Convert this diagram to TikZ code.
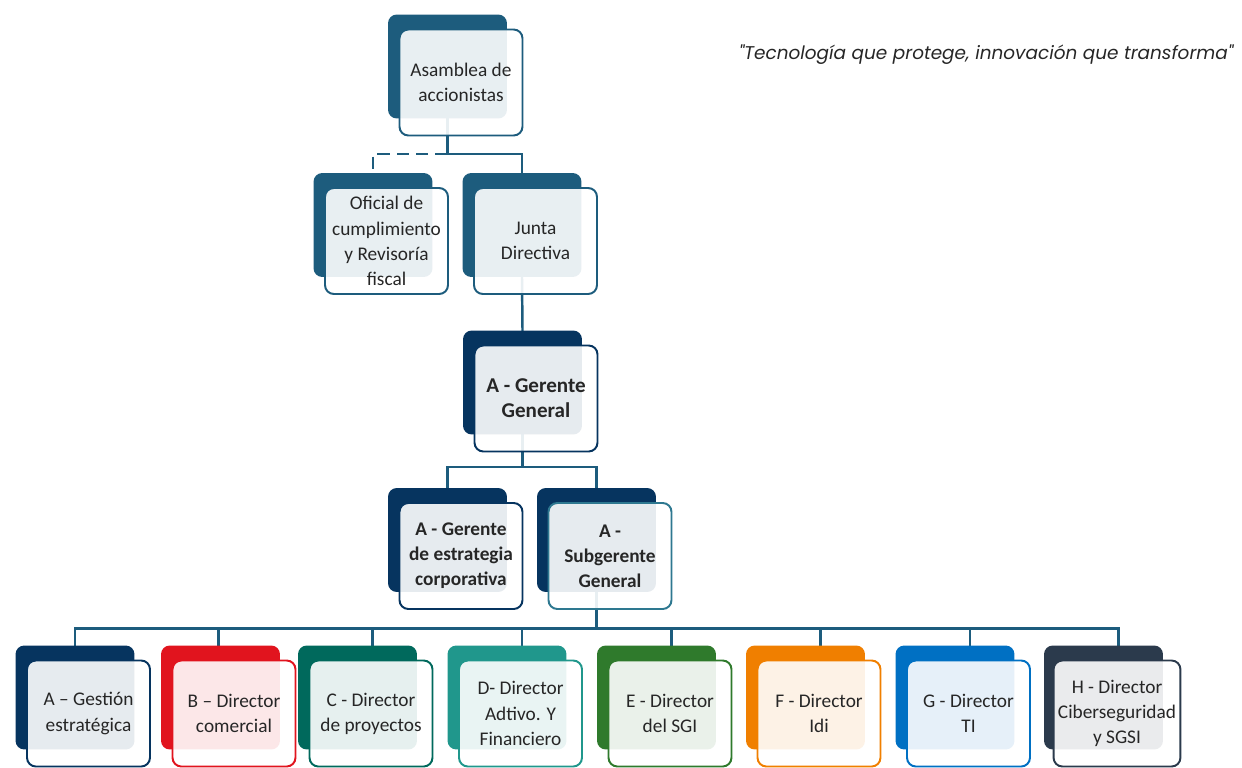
\documentclass[tikz,border=0pt]{standalone}
\usepackage{fontspec}
\setmainfont{Carlito}
\newfontfamily\quotefont{Poppins}
\usetikzlibrary{backgrounds,calc,positioning}
\definecolor{steel}{HTML}{1D5C7D}
\definecolor{navy}{HTML}{06345F}
\definecolor{subteal}{HTML}{2E7890}
\definecolor{redB}{HTML}{E1141E}
\definecolor{tealC}{HTML}{00695C}
\definecolor{tealD}{HTML}{20978C}
\definecolor{greenE}{HTML}{2F7A2C}
\definecolor{orangeF}{HTML}{F07F00}
\definecolor{blueG}{HTML}{0070C3}
\definecolor{slateH}{HTML}{2B3A4C}
\definecolor{txt}{HTML}{262626}
\tikzset{
  backbox/.style={fill=#1, rounded corners=5pt, minimum width=2.38cm, minimum height=2.08cm, inner sep=0pt},
  frontbox/.style={draw=#1, line width=1.1pt, rounded corners=5pt, fill=white, fill opacity=0.9, text opacity=1,
    minimum width=2.46cm, minimum height=2.12cm, align=center, inner sep=2.5pt, text=txt,
    font=\fontsize{11}{14.3}\selectfont},
  link/.style={draw=steel, line width=1.4pt, line cap=rect},
}
% one box of the chart: coloured back plate (#3b) and light front card (#3)
\def\orgunit[#1/#2](#3)(#4,#5)#6{%
  \node[backbox=#1] (#3b) at (#4,#5) {};
  \node[frontbox=#2] (#3) at ($(#3b)+(13.5,16)$) {#6};}

\begin{document}
\begin{tikzpicture}[x=0.02cm, y=-0.02cm]
  \useasboundingbox (0,0) rectangle (1242,768);

  %%%%% TOP %%%%%
  \orgunit[steel/steel](asam)(447.5,66.5){Asamblea de\\accionistas}
  \orgunit[steel/steel](ofic)(373,225){Oficial de\\cumplimiento\\y Revisoría\\fiscal}
  \orgunit[steel/steel](junta)(522,225){Junta\\Directiva}

  \node[font=\quotefont\itshape\fontsize{10.5}{12}\selectfont, text=txt] (motto) at (986,55)
    {"Tecnología que protege, innovación que transforma"};

  %%%%% GERENCIA %%%%%
  \orgunit[navy/navy](gg)(522.5,382.5){\textbf{\large A - Gerente}\\\textbf{\large General}}
  \orgunit[navy/navy](gec)(447.5,540){\textbf{A - Gerente}\\\textbf{de estrategia}\\\textbf{corporativa}}
  \orgunit[navy/subteal](sub)(596.5,540){\textbf{A -}\\\textbf{Subgerente}\\\textbf{General}}

  %%%%% DIRECTORES %%%%%
  \orgunit[navy/navy](gest)(75,697.5){A – Gestión\\estratégica}
  \orgunit[redB/redB](com)(220.5,697.5){B – Director\\comercial}
  \orgunit[tealC/tealC](proy)(357.5,697.5){C - Director\\de proyectos}
  \orgunit[tealD/tealD](fin)(507,697.5){D- Director\\Adtivo. Y\\Financiero}
  \orgunit[greenE/greenE](sgi)(656.5,697.5){E - Director\\del SGI}
  \orgunit[orangeF/orangeF](idi)(805.5,697.5){F - Director\\Idi}
  \orgunit[blueG/blueG](ti)(955,697.5){G - Director\\TI}
  \orgunit[slateH/slateH](ciber)(1103.5,697.5){H - Director\\Ciberseguridad\\y SGSI}

  %%%%% CONNECTORS %%%%%
  \begin{scope}[on background layer]
    \draw[link] (asamb.south) -- ++(0,35) coordinate (asamj) -| (juntab.north);
    \draw[link, line cap=butt, dash pattern=on 7pt off 4pt] (asamj) -| (oficb.north);
    \draw[link] (juntab.south) -- (ggb.north);
    \draw[link] (ggb.south) -- ++(0,32) coordinate (ggj) -| (gecb.north);
    \draw[link] (ggj) -| (subb.north);
    \draw[link] (subb.south) -- ++(0,36) coordinate (bus);
    \draw[link] (bus -| gestb.north) -- ($(bus -| ciberb.north)+(15,0)$);
    \foreach \n/\dx in {gestb/0,comb/-2,proyb/15,finb/15,sgib/15,idib/15,tib/15,ciberb/15}
      \draw[link] ($(bus -| \n.north)+(\dx,0)$) -- ($(\n.north)+(\dx,0)$);
  \end{scope}
\end{tikzpicture}
\end{document}
